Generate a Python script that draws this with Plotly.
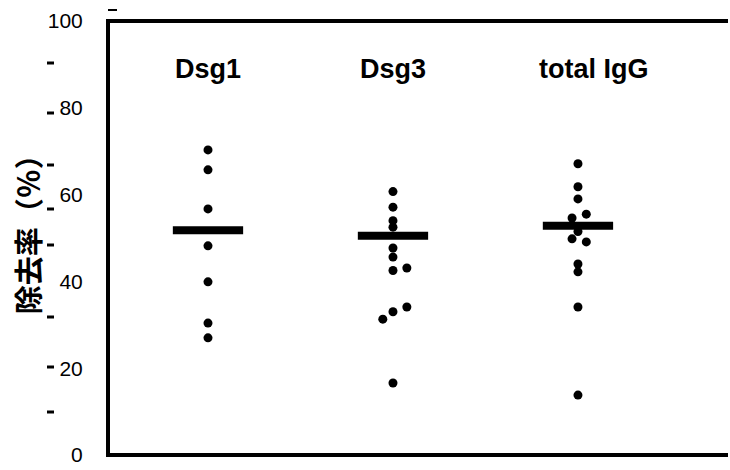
import plotly.graph_objects as go

# Removal rate (%) per antibody measure
categories = ["Dsg1", "Dsg3", "total IgG"]
dsg1_values = [70.3, 65.7, 56.7, 48.2, 39.9, 30.4, 27.0]
dsg3_values = [60.7, 57.1, 54.0, 52.5, 47.7, 45.6, 42.5, 43.1, 34.1, 33.0, 31.3, 16.6]
igg_values = [67.1, 61.8, 59.0, 55.5, 54.6, 51.5, 49.8, 49.1, 44.0, 42.2, 34.1, 13.8]
bar_values = [51.8, 50.5, 52.8]
y_ticks = [0, 20, 40, 60, 80, 100]

# horizontal spread of overlapping points (in category units)
dsg1_jitter = [0, 0, 0, 0, 0, 0, 0]
dsg3_jitter = [0, 0, 0, 0, 0, 0, 0, 0.075, 0.075, 0, -0.055, 0]
igg_jitter = [0, 0, 0, 0.045, -0.032, 0, -0.032, 0.045, 0, 0, 0, 0]

groups = [dsg1_values, dsg3_values, igg_values]
jitters = [dsg1_jitter, dsg3_jitter, igg_jitter]

fig = go.Figure()

for i, (vals, jit) in enumerate(zip(groups, jitters)):
    cx = i + 1
    fig.add_trace(go.Scatter(
        x=[cx + j for j in jit], y=vals, mode="markers",
        marker=dict(color="black", size=9, line=dict(width=0)),
        showlegend=False, hoverinfo="y"))
    half = 0.19
    fig.add_trace(go.Scatter(
        x=[cx - half, cx + half], y=[bar_values[i]] * 2, mode="lines",
        line=dict(color="black", width=8), showlegend=False, hoverinfo="y"))

# group names inside the plotting area
for i, name in enumerate(categories):
    fig.add_annotation(
        x=i + 1, y=89, xref="x", yref="y", text=name, showarrow=False,
        xshift=[0, 0, 16][i],
        font=dict(family="Liberation Sans", size=27, color="black", weight="bold"))

# y-axis title
fig.add_annotation(
    x=0, xref="paper", xanchor="center", xshift=-81, y=0.525, yref="paper",
    yanchor="middle", text="除去率（％）", textangle=-90, showarrow=False,
    font=dict(family="Noto Sans CJK JP", size=29, color="black", weight="bold"))

plot_top, plot_bottom, plot_left, plot_w = 21, 455, 108, 620

def px_x(x):
    return (x - plot_left) / plot_w

def px_y(y):
    return (plot_bottom - y) / (plot_bottom - plot_top)

# keep the right side of the frame open
fig.add_shape(type="rect", xref="paper", yref="paper", layer="above",
              x0=px_x(716), x1=1.01, y0=0.008, y1=0.992,
              fillcolor="white", line=dict(width=0))

# frame: left, bottom and top lines
frame = dict(color="black", width=4)
fig.add_shape(type="line", xref="paper", yref="paper", x0=0, x1=0,
              y0=px_y(457), y1=px_y(19), line=frame)
fig.add_shape(type="line", xref="paper", yref="paper", x0=0, x1=1,
              y0=0, y1=0, line=frame)
fig.add_shape(type="line", xref="paper", yref="paper", x0=0, x1=1,
              y0=1, y1=1, line=frame)

# small dash marks beside the axis
minor_marks_px = [63, 113, 165, 209, 245, 317, 367, 412]
for ypx in minor_marks_px:
    fig.add_shape(type="line", xref="paper", yref="paper",
                  x0=px_x(47), x1=px_x(54), y0=px_y(ypx), y1=px_y(ypx),
                  line=dict(color="black", width=3))
fig.add_shape(type="line", xref="paper", yref="paper",
              x0=px_x(108), x1=px_x(117), y0=px_y(10), y1=px_y(10),
              line=dict(color="black", width=2))

fig.update_layout(
    template="none",
    width=730, height=470,
    margin=dict(l=108, r=2, t=21, b=15),
    paper_bgcolor="white", plot_bgcolor="white",
    font=dict(family="Liberation Sans", color="black"),
    xaxis=dict(range=[0.4595, 3.811], showticklabels=False, ticks="",
               showgrid=False, zeroline=False, showline=False),
    # white outside ticks keep the labels clear of the frame
    yaxis=dict(range=[0, 100], tickvals=y_ticks, ticks="outside", ticklen=20,
               tickwidth=1, tickcolor="white", showgrid=False, zeroline=False,
               showline=False,
               tickfont=dict(family="Liberation Sans", size=21, color="black")),
)

fig.write_html("out.html")
